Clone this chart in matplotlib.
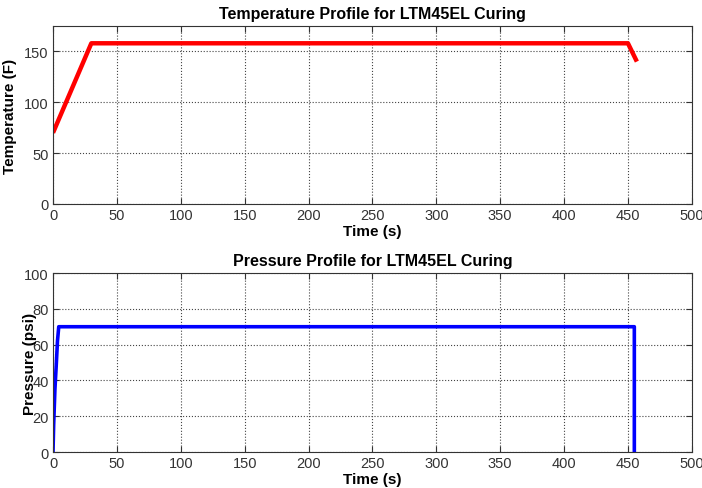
import numpy as np
import matplotlib
matplotlib.use('Agg')
import matplotlib.pyplot as plt

# temperature profile (F) vs time (s)
temp_time = [0, 30, 450, 457]
temp_vals = [70, 158, 158, 140]

# pressure profile (psi) vs time (s)
pres_time = [0, 0.5, 1.5, 2.5, 3.5, 4.5, 455, 455]
pres_vals = [0, 15, 35, 48, 62, 70, 70, 0]

x_ticks = list(range(0, 501, 50))
temp_ticks = [0, 50, 100, 150]
pres_ticks = [0, 20, 40, 60, 80, 100]

plt.rcParams.update({
    'font.family': ['Liberation Sans', 'DejaVu Sans'],
    'font.size': 10,
    'xtick.labelsize': 10.5,
    'ytick.labelsize': 10.5,
    'xtick.color': '#333333',
    'ytick.color': '#333333',
    'axes.edgecolor': '#333333',
})

fig = plt.figure(figsize=(7.02, 4.89), dpi=100)
ax1 = fig.add_axes([0.0755, 0.5808, 0.910, 0.364])
ax2 = fig.add_axes([0.0755, 0.0736, 0.910, 0.366])


def style(ax, yticks):
    ax.set_xlim(0, 500)
    ax.set_xticks(x_ticks)
    ax.set_yticks(yticks)
    ax.grid(True, linestyle=':', color='#444444', linewidth=0.8)
    ax.tick_params(direction='in', length=4, top=True, right=True, pad=3)
    ax.set_xlabel('Time (s)', fontweight='bold', fontsize=11, labelpad=1)


ax1.plot(temp_time, temp_vals, color='red', linewidth=3.2, solid_capstyle='butt')
style(ax1, temp_ticks)
ax1.set_ylim(0, 175)
ax1.set_ylabel('Temperature (F)', fontweight='bold', fontsize=11, labelpad=5)
ax1.set_title('Temperature Profile for LTM45EL Curing', fontweight='bold', fontsize=11.5, pad=6)

ax2.plot(pres_time, pres_vals, color='blue', linewidth=2.6, solid_capstyle='butt')
style(ax2, pres_ticks)
ax2.set_ylim(0, 100)
# label sits over the tick numbers, as in the original figure
ax2.set_ylabel('Pressure (psi)', fontweight='bold', fontsize=11, labelpad=-9)
ax2.set_title('Pressure Profile for LTM45EL Curing', fontweight='bold', fontsize=11.5, pad=6)

fig.savefig('out.png', dpi=100)
